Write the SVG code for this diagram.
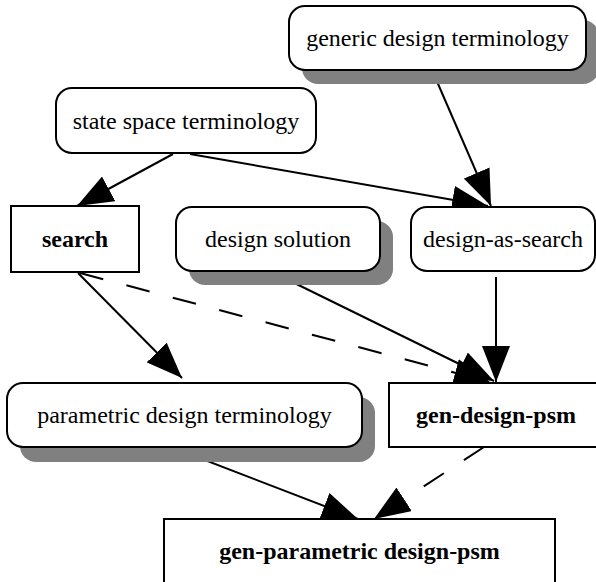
<svg xmlns="http://www.w3.org/2000/svg" width="596" height="582" viewBox="0 0 596 582">
<style>
.box{fill:#fff;stroke:#000;stroke-width:2}
.sh{fill:#808080;stroke:none}
.t{font-family:"Liberation Serif","Times New Roman",serif;font-size:24px;text-anchor:middle;fill:#000}
.b{font-weight:bold}
.e{fill:none;stroke:#000;stroke-width:2}
.d{stroke-dasharray:24 24}
</style>
<defs>
<marker id="ah" markerUnits="userSpaceOnUse" viewBox="0 0 36 28" markerWidth="36" markerHeight="28" refX="36" refY="14" orient="auto">
<path d="M0,0 L36,14 L0,28 Z" fill="#000"/>
</marker>
</defs>
<g id="edges">
<path class="e" d="M173,154 L77,206" marker-end="url(#ah)"/>
<path class="e" d="M190,154 L488,206" marker-end="url(#ah)"/>
<path class="e" d="M432,70 L491,206" marker-end="url(#ah)"/>
<path class="e" d="M496,277 L496,382" marker-end="url(#ah)"/>
<path class="e" d="M270,271 L494,381" marker-end="url(#ah)"/>
<path class="e d" d="M80,273 L490,382" marker-end="url(#ah)"/>
<path class="e" d="M78,273 L182,378" marker-end="url(#ah)"/>
<path class="e" d="M171,447 L358,519" marker-end="url(#ah)"/>
<path class="e d" d="M484,447 L374,519" marker-end="url(#ah)"/>
</g>
<g id="generic">
<rect class="sh" x="302" y="20" width="297" height="64" rx="16"/>
<rect class="box" x="289" y="6" width="297" height="64" rx="16"/>
<text class="t" x="437.5" y="46">generic design terminology</text>
</g>
<g id="statespace">
<rect class="box" x="56" y="88" width="260" height="65" rx="16"/>
<text class="t" x="186" y="129">state space terminology</text>
</g>
<g id="search">
<rect class="box" x="11" y="206" width="128" height="66"/>
<text class="t b" x="75" y="247">search</text>
</g>
<g id="designsolution">
<rect class="sh" x="189" y="221" width="204" height="64" rx="16"/>
<rect class="box" x="176" y="207" width="204" height="64" rx="16"/>
<text class="t" x="278" y="247">design solution</text>
</g>
<g id="designassearch">
<rect class="box" x="411" y="207" width="184" height="64" rx="16"/>
<text class="t" x="503" y="247">design-as-search</text>
</g>
<g id="parametric">
<rect class="sh" x="20" y="397" width="355" height="65" rx="16"/>
<rect class="box" x="7" y="383" width="355" height="64" rx="16"/>
<text class="t" x="184.5" y="423">parametric design terminology</text>
</g>
<g id="gendesignpsm">
<rect class="box" x="389" y="383" width="214" height="64"/>
<text class="t b" x="496" y="423">gen-design-psm</text>
</g>
<g id="genparametric">
<rect class="box" x="164" y="519" width="391" height="66"/>
<text class="t b" x="359.5" y="559">gen-parametric design-psm</text>
</g>
</svg>
